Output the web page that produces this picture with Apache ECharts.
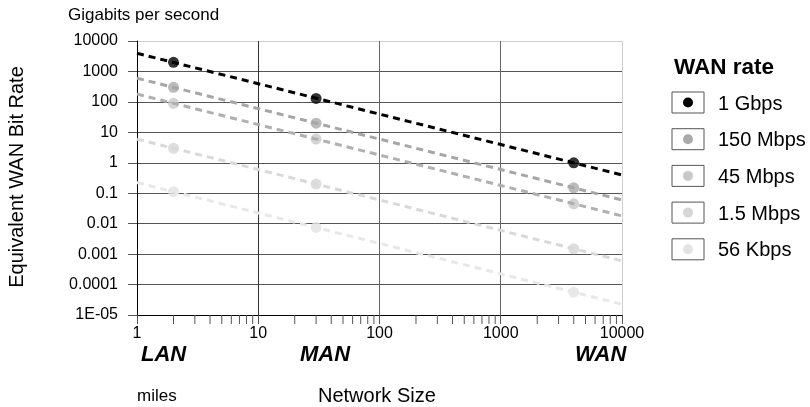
<!DOCTYPE html>
<html>
<head>
<meta charset="utf-8">
<script src="https://cdn.jsdelivr.net/npm/echarts@6/dist/echarts.min.js"></script>
<style>
  html, body { margin: 0; padding: 0; background: #fff; }
  #chart { width: 810px; height: 407px; }
</style>
</head>
<body>
<div id="chart"></div>
<script>
(function () {
  'use strict'

  // network sizes in miles: LAN, MAN, WAN
  const SIZES = [2, 30, 4000]

  const RATE_NAMES = ['1 Gbps', '150 Mbps', '45 Mbps', '1.5 Mbps', '56 Kbps']
  const GBPS_1 = [2000, 130, 1]
  const MBPS_150 = [300, 20, 0.15]
  const MBPS_45 = [90, 6, 0.045]
  const MBPS_1_5 = [3, 0.2, 0.0015]
  const KBPS_56 = [0.112, 0.0075, 0.000056]
  const RATE_VALUES = [GBPS_1, MBPS_150, MBPS_45, MBPS_1_5, KBPS_56]

  const X_TICK_LABELS = ['1', '10', '100', '1000', '10000']
  const Y_TICK_LABELS = ['1E-05', '0.0001', '0.001', '0.01', '0.1', '1', '10', '100', '1000', '10000']
  const MINOR_TICKS = [2, 3, 4, 5, 6, 7, 8, 9, 20, 30, 40, 50, 60, 70, 80, 90,
    200, 300, 400, 500, 600, 700, 800, 900, 2000, 3000, 4000, 5000, 6000, 7000, 8000, 9000]

  const POINT_COLORS = ['#000000', '#aaaaaa', '#c9c9c9', '#d6d6d6', '#e2e2e2']
  const LINE_COLORS = ['#000000', '#a6a6a6', '#b0b0b0', '#d9d9d9', '#e8e8e8']

  const X_MIN = 1
  const X_MAX = 10000
  const Y_MIN = 1e-5
  const FONT = 'Liberation Sans, Arial, sans-serif'

  // power trendline (least squares in log-log space), like a spreadsheet "power" fit
  function powerFit (xs, ys) {
    const lx = xs.map(Math.log10)
    const ly = ys.map(Math.log10)
    const n = lx.length
    const mx = lx.reduce((s, v) => s + v, 0) / n
    const my = ly.reduce((s, v) => s + v, 0) / n
    let sxx = 0
    let sxy = 0
    for (let i = 0; i < n; i++) {
      sxx += (lx[i] - mx) * (lx[i] - mx)
      sxy += (lx[i] - mx) * (ly[i] - my)
    }
    const b = sxy / sxx
    const a = my - b * mx
    return x => Math.pow(10, a + b * Math.log10(x))
  }

  function buildSeries () {
    const series = []
    RATE_VALUES.forEach((values, i) => {
      series.push({
        name: RATE_NAMES[i],
        type: 'scatter',
        symbol: 'circle',
        symbolSize: 11,
        z: 2,
        itemStyle: { color: POINT_COLORS[i] },
        data: SIZES.map((s, k) => [s, values[k]])
      })
    })
    RATE_VALUES.forEach((values, i) => {
      const fit = powerFit(SIZES, values)
      series.push({
        name: RATE_NAMES[i] + ' trend',
        type: 'line',
        symbol: 'none',
        silent: true,
        z: 3,
        lineStyle: { color: LINE_COLORS[i], width: 3, type: [7, 5] },
        data: [[X_MIN, fit(X_MIN)], [X_MAX, fit(X_MAX)]]
      })
    })
    series.push({
      type: 'custom',
      silent: true,
      clip: false,
      z: 1,
      data: MINOR_TICKS,
      renderItem: (params, api) => {
        const p = api.coord([api.value(0), Y_MIN])
        return {
          type: 'line',
          shape: { x1: p[0], y1: p[1], x2: p[0], y2: p[1] + 9 },
          style: { stroke: '#555', lineWidth: 1 }
        }
      }
    })
    return series
  }

  function buildLegend () {
    const items = [{
      type: 'text',
      x: 674,
      y: 68,
      style: { text: 'WAN rate', font: 'bold 22.5px ' + FONT, fill: '#000', textVerticalAlign: 'middle' }
    }]
    RATE_NAMES.forEach((name, i) => {
      const y = 92 + i * 36.7
      items.push({
        type: 'rect',
        shape: { x: 672, y, width: 32, height: 21 },
        style: { fill: '#fff', stroke: '#555', lineWidth: 1 }
      })
      items.push({
        type: 'circle',
        shape: { cx: 688, cy: y + 10.5, r: 5 },
        style: { fill: POINT_COLORS[i] }
      })
      items.push({
        type: 'text',
        x: 718,
        y: y + 12,
        style: { text: name, font: '20px ' + FONT, fill: '#000', textVerticalAlign: 'middle' }
      })
    })
    return items
  }

  function buildLabels () {
    const italic = 'italic bold 22px ' + FONT
    return [
      { type: 'text', left: 68, top: 7, style: { text: 'Gigabits per second', font: '17px ' + FONT, fill: '#000' } },
      { type: 'text', x: 141, y: 355, style: { text: 'LAN', font: italic, fill: '#000', textVerticalAlign: 'middle' } },
      { type: 'text', x: 300, y: 355, style: { text: 'MAN', font: italic, fill: '#000', textVerticalAlign: 'middle' } },
      { type: 'text', x: 575, y: 355, style: { text: 'WAN', font: italic, fill: '#000', textVerticalAlign: 'middle' } },
      { type: 'text', x: 137, y: 396, style: { text: 'miles', font: '17px ' + FONT, fill: '#000', textVerticalAlign: 'middle' } },
      { type: 'text', x: 318, y: 396, style: { text: 'Network Size', font: '20px ' + FONT, fill: '#000', textVerticalAlign: 'middle' } },
      {
        type: 'text',
        x: 17,
        y: 177,
        rotation: Math.PI / 2,
        style: { text: 'Equivalent WAN Bit Rate', font: '20px ' + FONT, fill: '#000', textAlign: 'center', textVerticalAlign: 'middle' }
      }
    ].concat(buildLegend())
  }

  function initChart () {
    const chart = echarts.init(document.getElementById('chart'), null, { renderer: 'canvas' })
    chart.setOption({
      animation: false,
      backgroundColor: '#fff',
      textStyle: { fontFamily: FONT },
      grid: { left: 137, right: 188, top: 41, bottom: 92, containLabel: false },
      xAxis: {
        type: 'log',
        logBase: 10,
        min: X_MIN,
        max: X_MAX,
        axisLine: { show: true, onZero: false, lineStyle: { color: '#000', width: 1 } },
        axisTick: { show: true, inside: false, length: 9, lineStyle: { color: '#555' } },
        axisLabel: {
          color: '#000',
          fontSize: 16,
          margin: 11,
          fontFamily: FONT,
          formatter: value => X_TICK_LABELS[Math.round(Math.log10(value))]
        },
        splitLine: { show: true, lineStyle: { color: ['#000', '#333', '#666', '#666', '#cfcfcf'], width: 1 } },
        minorTick: { show: false }
      },
      yAxis: {
        type: 'log',
        logBase: 10,
        min: Y_MIN,
        max: 10000,
        axisLine: { show: true, onZero: false, lineStyle: { color: '#000', width: 1 } },
        axisTick: { show: true, inside: false, length: 9, lineStyle: { color: '#555' } },
        axisLabel: {
          color: '#000',
          fontSize: 16,
          margin: 19,
          fontFamily: FONT,
          formatter: value => Y_TICK_LABELS[Math.round(Math.log10(value)) + 5]
        },
        splitLine: {
          show: true,
          lineStyle: { color: ['#000', '#555', '#555', '#555', '#555', '#555', '#555', '#555', '#555', '#cfcfcf'], width: 1 }
        }
      },
      series: buildSeries(),
      graphic: buildLabels()
    })
    window.addEventListener('resize', () => chart.resize())
  }

  if (document.readyState === 'loading') {
    document.addEventListener('DOMContentLoaded', initChart)
  } else {
    initChart()
  }
})()
</script>
</body>
</html>
